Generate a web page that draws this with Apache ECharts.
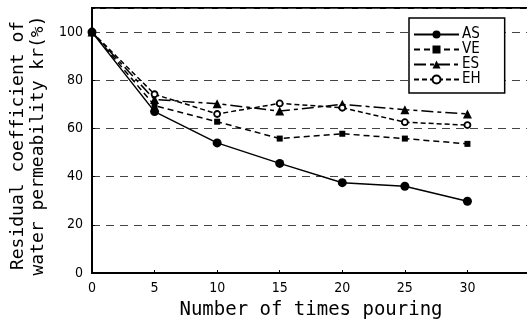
<!DOCTYPE html>
<html>
<head>
<meta charset="utf-8">
<script src="https://cdn.jsdelivr.net/npm/echarts@6/dist/echarts.min.js"></script>
<style>
  html, body { margin: 0; padding: 0; background: #fff; }
  #chart { width: 527px; height: 323px; }
</style>
</head>
<body>
<div id="chart"></div>
<script>
// number of times pouring
const pourings = [0, 5, 10, 15, 20, 25, 30];

// residual coefficient of water permeability kr (%)
const AS = [100, 67, 54, 45.5, 37.5, 36, 29.8];
const VE = [100, 69.5, 62.8, 55.8, 57.8, 55.8, 53.6];
const ES = [100, 72, 70.3, 67.2, 70, 67.8, 66];
const EH = [100, 74.2, 66, 70.4, 68.6, 62.6, 61.4];

const pair = (ys) => pourings.map((x, i) => [x, ys[i]]);

const labelFont = "'Liberation Sans Narrow', 'DejaVu Sans Condensed', 'DejaVu Sans', sans-serif";
const titleFont = "'DejaVu Sans Mono', 'Liberation Mono', monospace";

const chart = echarts.init(document.getElementById("chart"));

chart.setOption({
  animation: false,
  backgroundColor: "#fff",
  grid: {
    left: 92,
    top: 8,
    right: -3,
    bottom: 50,
    outerBoundsMode: "none",
    show: true,
    borderColor: "#000",
    borderWidth: 2,
  },
  legend: {
    orient: "vertical",
    left: 409,
    top: 18,
    itemWidth: 45,
    itemHeight: 10,
    itemGap: 0,
    padding: [9, 24, 6, 4],
    borderColor: "#000",
    borderWidth: 1.5,
    backgroundColor: "#fff",
    textStyle: { fontFamily: labelFont, fontSize: 15, lineHeight: 14, color: "#000", padding: [0, 0, 0, -2] },
    data: ["AS", "VE", "ES", "EH"],
  },
  xAxis: {
    type: "value",
    min: 0,
    max: 35,
    interval: 5,
    name: "Number of times pouring",
    nameLocation: "middle",
    nameGap: 28,
    nameTextStyle: { fontFamily: titleFont, fontSize: 19, color: "#000" },
    axisLine: { lineStyle: { color: "#000", width: 2 } },
    axisTick: { inside: true, length: 3, lineStyle: { color: "#000" } },
    axisLabel: {
      fontFamily: labelFont,
      fontSize: 14,
      color: "#000",
      margin: 8,
      formatter: (v) => (v > 30 ? "" : v),
    },
    splitLine: { show: false },
  },
  yAxis: {
    type: "value",
    min: 0,
    max: 110,
    interval: 20,
    name: "Residual coefficient of\nwater permeability kr(%)",
    nameLocation: "middle",
    nameGap: 44,
    nameTextStyle: { fontFamily: titleFont, fontSize: 18, color: "#000", lineHeight: 20, padding: [0, 0, 0, -10] },
    axisLine: { lineStyle: { color: "#000", width: 2 } },
    axisTick: { inside: true, length: 3, lineStyle: { color: "#000" } },
    axisLabel: {
      fontFamily: labelFont,
      fontSize: 14,
      color: "#000",
      margin: 9,
      formatter: (v) => (v > 100 ? "" : v),
    },
    splitLine: {
      lineStyle: { color: "#444", width: 1, type: [8, 6] },
    },
  },
  series: [
    {
      name: "AS",
      type: "line",
      data: pair(AS),
      symbol: "circle",
      symbolSize: 9,
      itemStyle: { color: "#000" },
      lineStyle: { color: "#000", width: 1.5, type: "solid" },
      z: 5,
    },
    {
      name: "VE",
      type: "line",
      data: pair(VE),
      symbol: "rect",
      symbolSize: 6,
      itemStyle: { color: "#000" },
      lineStyle: { color: "#000", width: 1.5, type: [6, 4] },
    },
    {
      name: "ES",
      type: "line",
      data: pair(ES),
      symbol: "triangle",
      symbolSize: 9,
      itemStyle: { color: "#000" },
      lineStyle: { color: "#000", width: 1.5, type: [12, 4, 4, 4] },
    },
    {
      name: "EH",
      type: "line",
      data: pair(EH),
      symbol: "circle",
      symbolSize: 6,
      itemStyle: { color: "#fff", borderColor: "#000", borderWidth: 1.8 },
      lineStyle: { color: "#000", width: 1.5, type: [5, 3] },
    },
  ],
});
</script>
</body>
</html>
